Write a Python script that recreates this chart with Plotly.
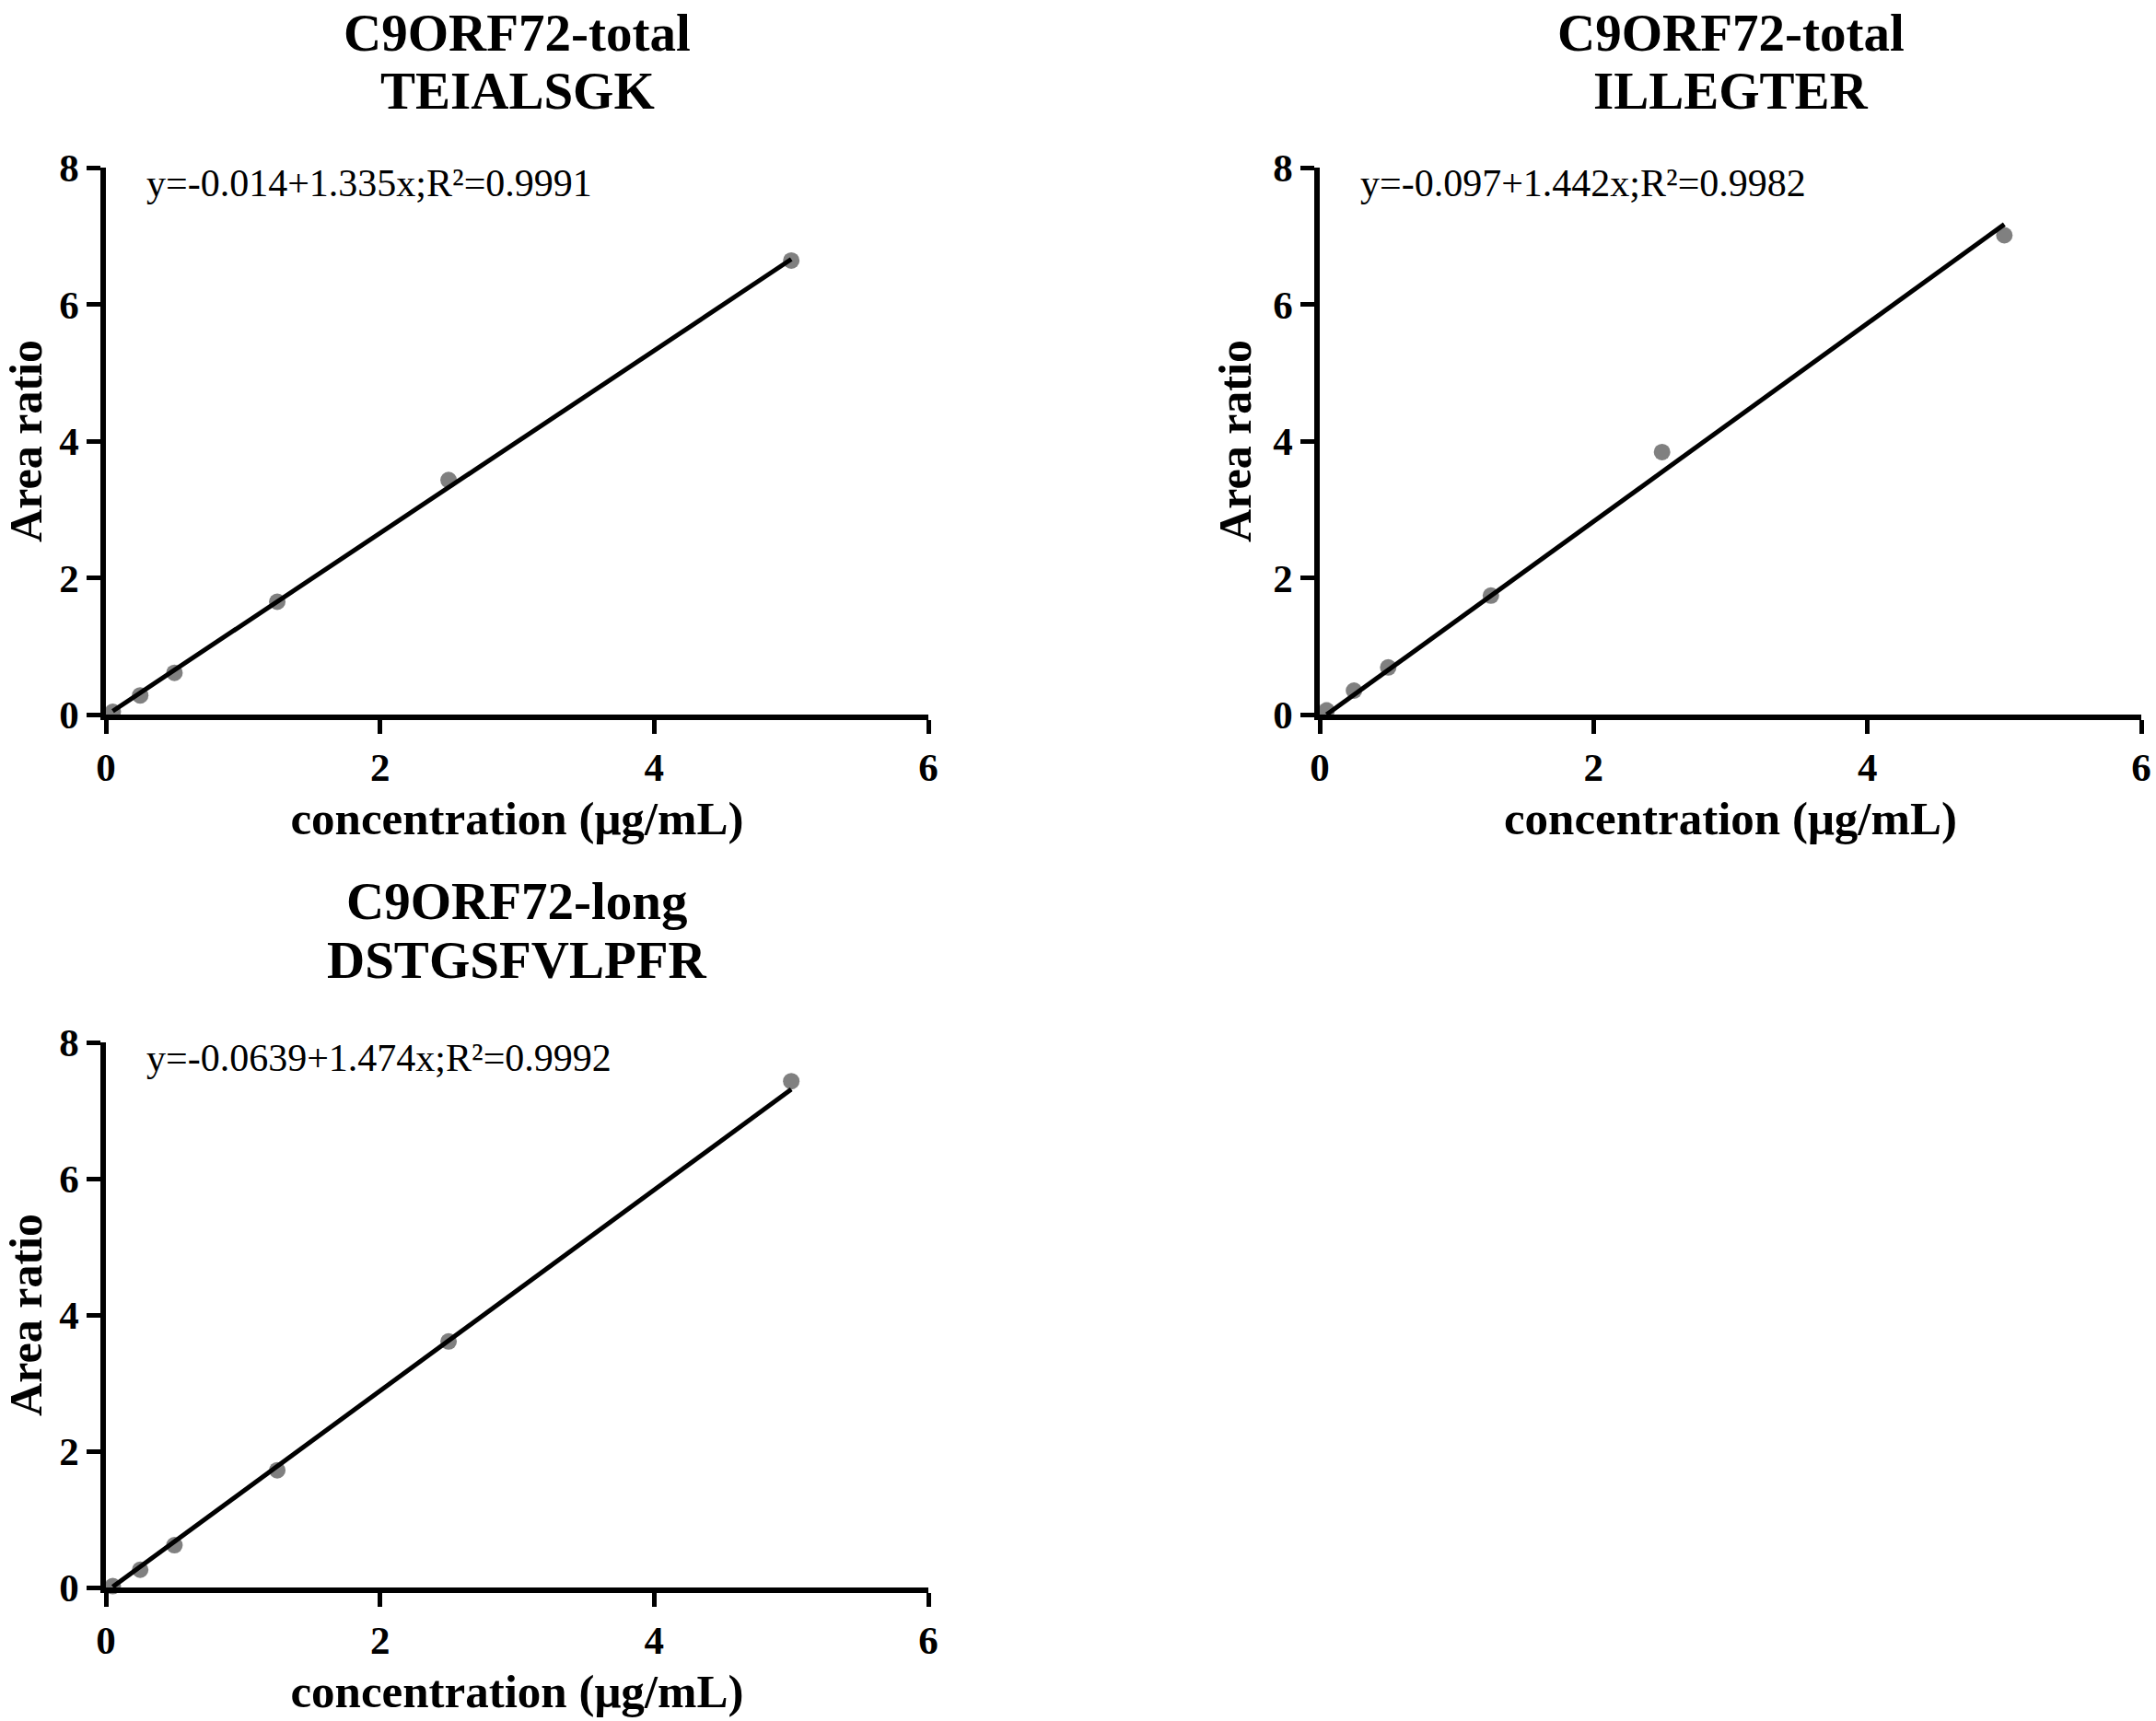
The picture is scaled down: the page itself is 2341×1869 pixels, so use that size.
import plotly.graph_objects as go

# ---- data ----
concentration = [0.05, 0.25, 0.5, 1.25, 2.5, 5.0]
ratio_teialsgk = [0.04, 0.28, 0.61, 1.65, 3.43, 6.64]
ratio_illegter = [0.06, 0.35, 0.69, 1.74, 3.84, 7.01]
ratio_dstgsfvlpfr = [0.02, 0.26, 0.62, 1.72, 3.61, 7.43]

fit_x = [0.05, 5.0]
fit_teialsgk = [0.05, 6.66]
fit_illegter = [0.0, 7.17]
fit_dstgsfvlpfr = [0.01, 7.31]

titles_line1 = ["C9ORF72-total", "C9ORF72-total", "C9ORF72-long"]
titles_line2 = ["TEIALSGK", "ILLEGTER", "DSTGSFVLPFR"]
equations = ["y=-0.014+1.335x;R²=0.9991",
             "y=-0.097+1.442x;R²=0.9982",
             "y=-0.0639+1.474x;R²=0.9992"]
x_ticks = [0, 2, 4, 6]
y_ticks = [0, 2, 4, 6, 8]
x_title = "concentration (μg/mL)"
y_title = "Area ratio"

W, H = 2341, 1869
FONT = "Liberation Serif"

# panel pixel boxes (left, right, bottom, top)
panels = [
    (115, 1008, 776, 182),
    (1433, 2325, 776, 182),
    (115, 1008, 1724, 1132),
]
title_y = [(36, 98), (36, 98), (978, 1042)]

series = [(ratio_teialsgk, fit_teialsgk),
          (ratio_illegter, fit_illegter),
          (ratio_dstgsfvlpfr, fit_dstgsfvlpfr)]

fig = go.Figure()
annotations = []
layout_axes = {}
for i, ((ys, fy), (l, r, b, t)) in enumerate(zip(series, panels)):
    n = "" if i == 0 else str(i + 1)
    xa, ya = "x" + n, "y" + n
    fig.add_trace(go.Scatter(x=concentration, y=ys, mode="markers",
                             marker=dict(color="#808080", size=18),
                             xaxis=xa, yaxis=ya, cliponaxis=False,
                             showlegend=False))
    fig.add_trace(go.Scatter(x=fit_x, y=fy, mode="lines",
                             line=dict(color="black", width=5),
                             xaxis=xa, yaxis=ya, cliponaxis=False,
                             showlegend=False))
    common = dict(showline=True, linecolor="black", linewidth=5.5,
                  ticks="outside", ticklen=15, tickwidth=5,
                  tickcolor="black", showgrid=False, zeroline=False,
                  automargin=False,
                  tickfont=dict(family=FONT, size=43, color="black",
                                weight="bold"),
                  fixedrange=True)
    layout_axes["xaxis" + n] = dict(
        common, domain=[l / W, r / W], range=[0, 6], tickvals=x_ticks,
        anchor=ya,
        title=dict(text=x_title, standoff=16,
                   font=dict(family=FONT, size=51, color="black",
                             weight="bold")))
    layout_axes["yaxis" + n] = dict(
        common, domain=[1 - b / H, 1 - t / H], range=[0, 8],
        tickvals=y_ticks, anchor=xa,
        title=dict(text=y_title, standoff=10,
                   font=dict(family=FONT, size=50, color="black",
                             weight="bold")))
    cx = (l + r) / 2 / W
    for txt, yy in zip((titles_line1[i], titles_line2[i]), title_y[i]):
        annotations.append(dict(text=txt, x=cx, y=1 - yy / H,
                                xref="paper", yref="paper",
                                xanchor="center", yanchor="middle",
                                showarrow=False,
                                font=dict(family=FONT, size=57,
                                          color="black", weight="bold")))
    annotations.append(dict(text=equations[i], x=0.28, y=7.77,
                            xref=xa, yref=ya, xanchor="left",
                            yanchor="middle", showarrow=False,
                            font=dict(family=FONT, size=42, color="black")))

fig.update_layout(template="none", width=W, height=H,
                  margin=dict(l=0, r=0, t=0, b=0),
                  plot_bgcolor="white", paper_bgcolor="white",
                  annotations=annotations, **layout_axes)

fig.write_html("out.html", config={"displayModeBar": False},
               post_script="document.body.style.margin='0';"
                           "document.body.style.overflow='hidden';")
